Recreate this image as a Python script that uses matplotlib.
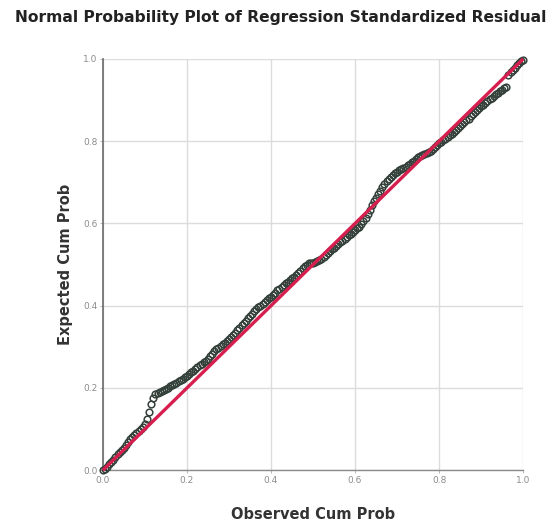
import numpy as np
import matplotlib
matplotlib.use( "Agg" )
import matplotlib.pyplot as plt
import matplotlib.ticker as tic


# ========================================================= #
# ===  data        === #
# ========================================================= #

obs_cum = [ 0.000, 0.005, 0.010, 0.015, 0.020, 0.025, 0.030, 0.035, 0.040, 0.045,
            0.050, 0.055, 0.060, 0.065, 0.070, 0.075, 0.080, 0.085, 0.090, 0.095,
            0.100, 0.105, 0.110, 0.115, 0.120, 0.125, 0.130, 0.135, 0.140, 0.145,
            0.150, 0.155, 0.160, 0.165, 0.170, 0.175, 0.180, 0.185, 0.190, 0.195,
            0.200, 0.205, 0.210, 0.215, 0.220, 0.225, 0.230, 0.235, 0.240, 0.245,
            0.250, 0.255, 0.260, 0.265, 0.270, 0.275, 0.280, 0.285, 0.290, 0.295,
            0.300, 0.305, 0.310, 0.315, 0.320, 0.325, 0.330, 0.335, 0.340, 0.345,
            0.350, 0.355, 0.360, 0.365, 0.370, 0.375, 0.380, 0.385, 0.390, 0.395,
            0.400, 0.405, 0.410, 0.415, 0.420, 0.425, 0.430, 0.435, 0.440, 0.445,
            0.450, 0.455, 0.460, 0.465, 0.470, 0.475, 0.480, 0.485, 0.490, 0.495,
            0.500, 0.505, 0.510, 0.515, 0.520, 0.525, 0.530, 0.535, 0.540, 0.545,
            0.550, 0.555, 0.560, 0.565, 0.570, 0.575, 0.580, 0.585, 0.590, 0.595,
            0.600, 0.605, 0.610, 0.615, 0.620, 0.625, 0.630, 0.635, 0.640, 0.645,
            0.650, 0.655, 0.660, 0.665, 0.670, 0.675, 0.680, 0.685, 0.690, 0.695,
            0.700, 0.705, 0.710, 0.715, 0.720, 0.725, 0.730, 0.735, 0.740, 0.745,
            0.750, 0.755, 0.760, 0.765, 0.770, 0.775, 0.780, 0.785, 0.790, 0.795,
            0.800, 0.805, 0.810, 0.815, 0.820, 0.825, 0.830, 0.835, 0.840, 0.845,
            0.850, 0.855, 0.860, 0.865, 0.870, 0.875, 0.880, 0.885, 0.890, 0.895,
            0.900, 0.905, 0.910, 0.915, 0.920, 0.925, 0.930, 0.935, 0.940, 0.945,
            0.950, 0.955, 0.960, 0.965, 0.970, 0.975, 0.980, 0.985, 0.990, 0.995,
            1.000 ]

exp_cum = [ 0.000, 0.004, 0.008, 0.014, 0.020, 0.026, 0.032, 0.039, 0.045, 0.050,
            0.055, 0.062, 0.068, 0.075, 0.080, 0.085, 0.090, 0.095, 0.100, 0.106,
            0.112, 0.125, 0.142, 0.160, 0.176, 0.185, 0.189, 0.191, 0.193, 0.196,
            0.198, 0.201, 0.204, 0.207, 0.210, 0.213, 0.216, 0.220, 0.223, 0.227,
            0.230, 0.234, 0.238, 0.242, 0.246, 0.251, 0.255, 0.258, 0.262, 0.266,
            0.270, 0.277, 0.283, 0.289, 0.295, 0.298, 0.302, 0.306, 0.310, 0.314,
            0.318, 0.323, 0.328, 0.334, 0.340, 0.346, 0.352, 0.357, 0.363, 0.369,
            0.375, 0.381, 0.387, 0.392, 0.396, 0.400, 0.405, 0.410, 0.415, 0.418,
            0.422, 0.427, 0.432, 0.437, 0.441, 0.446, 0.450, 0.454, 0.458, 0.463,
            0.467, 0.470, 0.474, 0.480, 0.485, 0.491, 0.496, 0.500, 0.503, 0.504,
            0.505, 0.506, 0.508, 0.511, 0.514, 0.519, 0.524, 0.529, 0.533, 0.537,
            0.540, 0.545, 0.549, 0.554, 0.558, 0.562, 0.566, 0.571, 0.575, 0.579,
            0.583, 0.588, 0.592, 0.598, 0.605, 0.613, 0.622, 0.633, 0.645, 0.654,
            0.662, 0.671, 0.680, 0.689, 0.697, 0.703, 0.708, 0.713, 0.718, 0.722,
            0.725, 0.729, 0.732, 0.735, 0.738, 0.742, 0.745, 0.749, 0.752, 0.757,
            0.762, 0.765, 0.767, 0.769, 0.771, 0.774, 0.777, 0.781, 0.785, 0.790,
            0.795, 0.799, 0.802, 0.806, 0.810, 0.814, 0.818, 0.822, 0.827, 0.833,
            0.838, 0.842, 0.846, 0.851, 0.855, 0.860, 0.865, 0.870, 0.875, 0.880,
            0.885, 0.889, 0.893, 0.898, 0.902, 0.906, 0.910, 0.914, 0.918, 0.922,
            0.925, 0.929, 0.932, 0.960, 0.968, 0.973, 0.978, 0.984, 0.990, 0.994,
            0.998 ]

ref_line   = [ 0.0, 1.0 ]
tick_vals  = [ 0.0, 0.2, 0.4, 0.6, 0.8, 1.0 ]
title      = "Normal Probability Plot of Regression Standardized Residual"
xtitle     = "Observed Cum Prob"
ytitle     = "Expected Cum Prob"


# ========================================================= #
# ===  draw                                             === #
# ========================================================= #

fig = plt.figure( figsize=(5.56,5.26), dpi=100 )
ax1 = fig.add_axes( [ 0.185, 0.106, 0.756, 0.782 ] )

# ------------------------------------------------- #
# --- [1] grid / spines / ticks                 --- #
# ------------------------------------------------- #
ax1.set_xlim( 0.0, 1.0 )
ax1.set_ylim( 0.0, 1.0 )
ax1.set_xticks( tick_vals )
ax1.set_yticks( tick_vals )
ax1.xaxis.set_major_formatter( tic.FormatStrFormatter( "%.1f" ) )
ax1.yaxis.set_major_formatter( tic.FormatStrFormatter( "%.1f" ) )
ax1.grid( True, color="#dcdcdc", linewidth=1.0, zorder=0 )
ax1.set_axisbelow( True )
for side in [ "top", "right" ]:
    ax1.spines[side].set_visible( False )
ax1.spines["left"  ].set_color( "#6a6a6a" )
ax1.spines["bottom"].set_color( "#8a8a8a" )
ax1.spines["left"  ].set_linewidth( 1.2 )
ax1.spines["bottom"].set_linewidth( 1.0 )
ax1.tick_params( axis="both", length=2, width=0.6, color="#aaaaaa", \
                 labelsize=6.5, labelcolor="#8c8c8c", pad=2 )

# ------------------------------------------------- #
# --- [2] points & reference line               --- #
# ------------------------------------------------- #
ax1.plot( obs_cum, exp_cum, linestyle="none", marker="o", markersize=4.8, \
          markerfacecolor="none", markeredgecolor="#34403a", \
          markeredgewidth=1.1, zorder=3, clip_on=False )
ax1.plot( ref_line, ref_line, color="#d61f4f", linewidth=2.4, \
          solid_capstyle="butt", zorder=4, clip_on=False )

# ------------------------------------------------- #
# --- [3] titles                                --- #
# ------------------------------------------------- #
fig.text( 0.505, 0.966, title, ha="center", va="center", \
          fontsize=11.2, fontweight="bold", color="#222222" )
ax1.set_xlabel( xtitle, fontsize=10.5, fontweight="bold", color="#333333", labelpad=16 )
ax1.set_ylabel( ytitle, fontsize=10.5, fontweight="bold", color="#333333", labelpad=7 )

fig.savefig( "out.png", dpi=100 )
